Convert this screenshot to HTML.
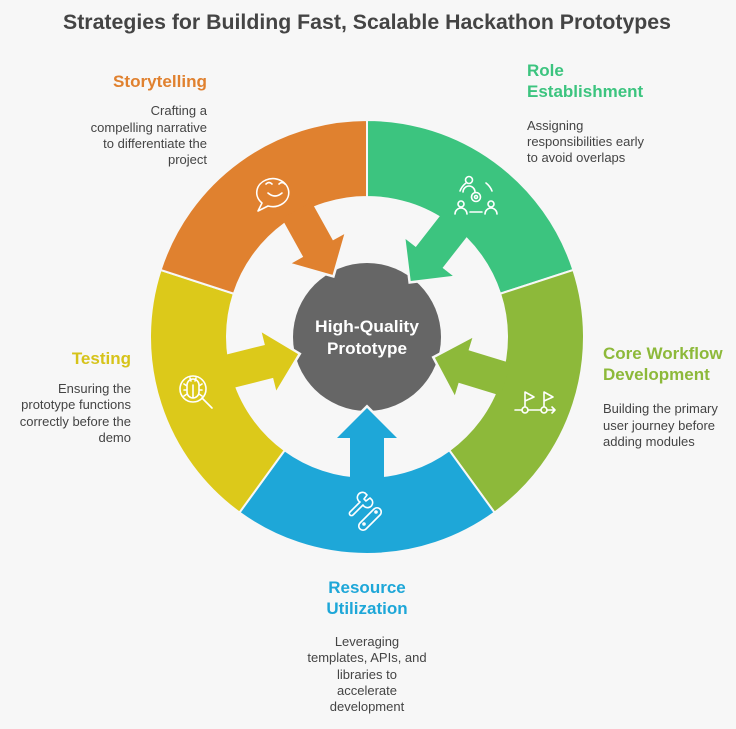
<!DOCTYPE html>
<html><head><meta charset="utf-8"><style>
body{margin:0;background:#f7f7f7;}
svg{display:block}
text{font-family:"Liberation Sans",sans-serif}
.d{font-size:13px;fill:#444}
.h{font-size:17px;font-weight:bold}
</style></head><body>
<svg id="s" width="736" height="729" viewBox="0 0 736 729">
<rect width="736" height="729" fill="#f7f7f7"/>
<g id="arrows"></g>
<g id="ring"></g>
<circle cx="367" cy="337" r="74" fill="#666" id="cc"/>
<g id="arrows2"></g>
<text x="367" y="332" text-anchor="middle" fill="#fff" font-weight="bold" font-size="17" textLength="104" lengthAdjust="spacingAndGlyphs">High-Quality</text>
<text x="367" y="354" text-anchor="middle" fill="#fff" font-weight="bold" font-size="17" textLength="80" lengthAdjust="spacingAndGlyphs">Prototype</text>

<text x="367" y="29" text-anchor="middle" font-size="21" font-weight="bold" fill="#444" textLength="608" lengthAdjust="spacingAndGlyphs">Strategies for Building Fast, Scalable Hackathon Prototypes</text>

<g text-anchor="end">
<text class="h" x="207" y="87" fill="#E0812F" textLength="94" lengthAdjust="spacingAndGlyphs">Storytelling</text>
<text class="d" x="207" y="115">Crafting a</text>
<text class="d" x="207" y="132">compelling narrative</text>
<text class="d" x="207" y="148">to differentiate the</text>
<text class="d" x="207" y="164">project</text>
<text class="h" x="131" y="364" fill="#D6C31A">Testing</text>
<text class="d" x="131" y="393">Ensuring the</text>
<text class="d" x="131" y="409">prototype functions</text>
<text class="d" x="131" y="426">correctly before the</text>
<text class="d" x="131" y="442">demo</text>
</g>
<g>
<text class="h" x="527" y="76" fill="#3CC47F">Role</text>
<text class="h" x="527" y="97" fill="#3CC47F">Establishment</text>
<text class="d" x="527" y="130">Assigning</text>
<text class="d" x="527" y="146">responsibilities early</text>
<text class="d" x="527" y="162">to avoid overlaps</text>
<text class="h" x="603" y="359" fill="#8DB93A">Core Workflow</text>
<text class="h" x="603" y="380" fill="#8DB93A">Development</text>
<text class="d" x="603" y="413">Building the primary</text>
<text class="d" x="603" y="430">user journey before</text>
<text class="d" x="603" y="446">adding modules</text>
</g>
<g text-anchor="middle">
<text class="h" x="367" y="593" fill="#1EA7D8">Resource</text>
<text class="h" x="367" y="614" fill="#1EA7D8">Utilization</text>
<text class="d" x="367" y="646">Leveraging</text>
<text class="d" x="367" y="662">templates, APIs, and</text>
<text class="d" x="367" y="679">libraries to</text>
<text class="d" x="367" y="695">accelerate</text>
<text class="d" x="367" y="711">development</text>
</g>
<g id="icons" fill="none" stroke="#fff" stroke-width="1.6" stroke-linecap="round" stroke-linejoin="round">
<path d="M262,203 l-4,8 l10,-5 a16,14 0 1 0 -6,-3z"/>
<path d="M266,184 q3,-3 6,0 M279,184 q3,-3 6,0 M268,193 q7,6 14,0"/>
<circle cx="469" cy="180" r="3.5"/><path d="M463,192 a6,6 0 0 1 12,0"/>
<circle cx="461" cy="204" r="3"/><path d="M455,214 a6,6 0 0 1 12,0"/>
<circle cx="491" cy="204" r="3"/><path d="M485,214 a6,6 0 0 1 12,0"/>
<circle cx="476" cy="197" r="4.5"/><circle cx="476" cy="197" r="1.5"/>
<path d="M460,191 a18,18 0 0 1 6,-8 M486,183 a18,18 0 0 1 6,8 M470,212 h12"/>
<path d="M525,410 v-18 l9,5 l-9,4 M544,410 v-18 l9,5 l-9,4 M515,410 h40 l-3,-3 M555,410 l-3,3"/>
<circle cx="525" cy="410" r="3" fill="#8DB93A"/><circle cx="544" cy="410" r="3" fill="#8DB93A"/>
<circle cx="193" cy="389" r="13"/><path d="M202,398 l10,10"/>
<path d="M187,385 a6,6 0 0 1 12,0 v7 a6,6 0 0 1 -12,0z M193,385 v13 M184,384 l3,2 M184,390 h3 M184,396 l3,-2 M202,384 l-3,2 M202,390 h-3 M202,396 l-3,-2 M190,378 l1,3 M196,378 l-1,3"/>
<path d="M350,512 l10,-10 a5,5 0 0 1 5,-9 l2,2 l-3,4 l2,2 l4,-3 l2,2 a5,5 0 0 1 -9,5 l-10,10 a2,2 0 0 1 -3,-3z"/>
<path d="M360,523 l14,-14 a4,4 0 0 1 6,6 l-14,14 a4,4 0 0 1 -6,-6z"/><circle cx="364" cy="524" r="1"/><circle cx="376" cy="512" r="1"/>
</g>
</svg>
<script>
const cx=367,cy=337,R=217,r=140,NS="http://www.w3.org/2000/svg";
function P(rad,a){a=a*Math.PI/180;return [cx+rad*Math.sin(a),cy-rad*Math.cos(a)];}
const segs=[[0,72,"#3CC47F"],[72,144,"#8DB93A"],[144,216,"#1EA7D8"],[216,288,"#DCC91A"],[288,360,"#E0812F"]];
const ring=document.getElementById("ring");
segs.forEach(s=>{const a=P(R,s[0]),b=P(R,s[1]),c=P(r,s[1]),d=P(r,s[0]);
const p=document.createElementNS(NS,"path");
p.setAttribute("d",`M${a} A${R},${R} 0 0 1 ${b} L${c} A${r},${r} 0 0 0 ${d}Z`);
p.setAttribute("fill",s[2]);p.setAttribute("stroke","#f7f7f7");p.setAttribute("stroke-width","2");ring.appendChild(p);});
const arr=[[38,"#3CC47F"],[107,"#8DB93A"],[180,"#1EA7D8"],[256,"#DCC91A"],[331,"#E0812F"]];
arr.forEach(a=>{
 ["arrows","arrows2"].forEach((g,i)=>{
 const p=document.createElementNS(NS,"polygon");
 p.setAttribute("points",i==0?"-17,160 -17,101 -30,101 0,71 30,101 17,101 17,160":"-17,145 -17,101 -30,101 0,71 30,101 17,101 17,145");
 p.setAttribute("transform",`translate(${cx},${cy}) rotate(${a[0]-180})`);
 p.setAttribute("fill",a[1]);
 if(i==0){p.setAttribute("stroke","#f7f7f7");p.setAttribute("stroke-width","6");}
 document.getElementById(g).appendChild(p);});
});
arr.forEach(a=>{const p=document.createElementNS(NS,"polyline");
p.setAttribute("points","-30,101 0,71 30,101");p.setAttribute("fill","none");p.setAttribute("stroke","#f7f7f7");p.setAttribute("stroke-width","5");
p.setAttribute("transform",`translate(${cx},${cy}) rotate(${a[0]-180})`);
const g=document.getElementById("arrows2");g.insertBefore(p,g.firstChild);});
</script>
</body></html>
